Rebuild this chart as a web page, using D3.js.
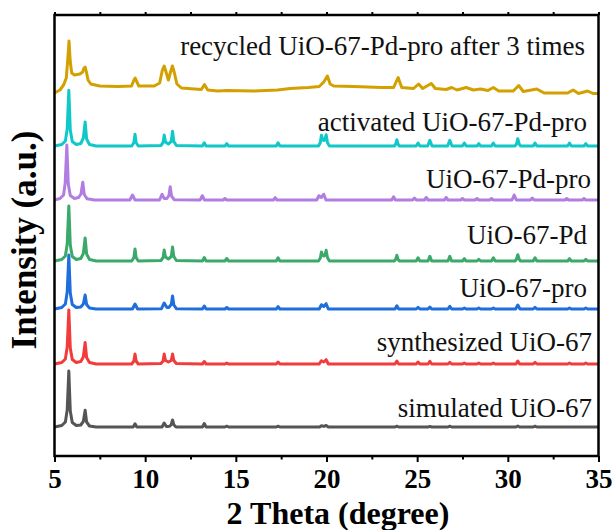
<!DOCTYPE html>
<html><head><meta charset="utf-8">
<script src="https://cdn.jsdelivr.net/npm/d3@7"></script>
<style>
html,body{margin:0;padding:0;background:#fff;}
svg{display:block;}
</style></head>
<body>
<svg id="chart" width="615" height="530"></svg>
<script>
// ---------------- DATA ----------------
const seriesNames = ["simulated UiO-67","synthesized UiO-67","UiO-67-pro","UiO-67-Pd","UiO-67-Pd-pro","activated UiO-67-Pd-pro","recycled UiO-67-Pd-pro after 3 times"];
// stacking offsets (a.u.) of each pattern
const seriesOffsets = [29, 92, 147, 195, 256, 310, 365];
const xTickValues = [5,10,15,20,25,30,35];
const xMinorTickValues = [7.5,12.5,17.5,22.5,27.5,32.5];

// [2theta, intensity]
const simulated = [[5,0],[5.4,1.5],[5.6,5],[5.7,17],[5.79,56],[5.87,16],[5.98,4.5],[6.2,1.5],[6.45,2],[6.59,5.5],[6.69,16.7],[6.77,5],[6.93,1],[7.3,0],
[9.34,0],[9.44,3.3],[9.54,0],
[10.93,0],[11.05,4],[11.17,0.5],[11.35,0.8],[11.44,2.5],[11.51,7],[11.58,2.2],[11.7,0],
[13.16,0],[13.26,3.5],[13.36,0],
[14.4,0],[14.5,0.8],[14.6,0],
[17.23,0],[17.33,0.8],[17.43,0],
[19.62,0],[19.72,1.2],[19.85,0.6],[19.98,1.5],[20.1,0],
[23.78,0],[23.88,0.8],[23.98,0],
[25.6,0],[25.7,0.6],[25.8,0],
[26.7,0],[26.8,0.8],[26.9,0],
[30.45,0],[30.55,1],[30.65,0],
[31.4,0],[31.5,0.8],[31.6,0],[35,0]];

const synthesized = [[5,0],[5.4,1.5],[5.6,5],[5.7,17],[5.79,54],[5.87,16],[5.98,4.5],[6.2,1.5],[6.45,2.5],[6.59,7],[6.69,21.5],[6.77,6.5],[6.93,1.5],[7.3,0],
[9.26,0],[9.38,3],[9.44,10],[9.5,3],[9.62,0],
[10.87,0.5],[10.99,3],[11.05,10],[11.12,3.5],[11.28,2],[11.44,3.5],[11.51,10],[11.58,3.5],[11.72,0.5],
[13.16,0],[13.26,2.5],[13.36,0],
[14.4,0],[14.5,1],[14.6,0],
[17.23,0],[17.33,2],[17.43,0],
[19.6,0],[19.72,3.3],[19.85,2],[19.98,4.3],[20.1,0],
[23.78,0],[23.88,3],[23.98,0],
[24.95,0],[25.05,2],[25.15,0],
[25.6,0],[25.7,2.7],[25.8,0],
[26.7,0],[26.8,1.7],[26.9,0],
[27.5,0],[27.6,1],[27.7,0],
[28.3,0],[28.4,1],[28.5,0],
[29.1,0],[29.2,1],[29.3,0],
[30.45,0],[30.55,3],[30.65,0],
[31.4,0],[31.5,1.7],[31.6,0],
[33.3,0],[33.4,1],[33.5,0],
[34.2,0],[34.3,1],[34.4,0],[35,0]];

const uioPro = [[5,0],[5.4,1.5],[5.6,5],[5.7,17],[5.79,54],[5.87,16],[5.98,4.5],[6.2,1.5],[6.45,2],[6.59,5],[6.69,14],[6.77,4.5],[6.93,1],[7.3,0],
[9.3,0],[9.44,5],[9.58,0],
[10.9,0.3],[11.05,6],[11.2,1.5],[11.3,1.5],[11.44,4.5],[11.51,13],[11.58,4],[11.72,0.3],
[13.16,0],[13.26,3],[13.36,0],
[14.4,0],[14.5,1.5],[14.6,0],
[17.23,0],[17.33,2.3],[17.43,0],
[19.6,0],[19.72,4.3],[19.85,2.5],[19.98,5.3],[20.1,0],
[23.78,0],[23.88,3.3],[23.98,0],
[24.95,0],[25.05,1.7],[25.15,0],
[25.6,0],[25.7,2],[25.8,0],
[26.7,0],[26.8,2.7],[26.9,0],
[27.5,0],[27.6,1],[27.7,0],
[28.3,0],[28.4,1],[28.5,0],
[29.1,0],[29.2,1],[29.3,0],
[30.43,0],[30.55,4],[30.67,0],
[31.4,0],[31.5,1.7],[31.6,0],
[33.3,0],[33.4,1],[33.5,0],
[34.2,0],[34.3,1],[34.4,0],[35,0]];

const uioPd = [[5,0],[5.4,1.5],[5.6,5],[5.7,17],[5.79,55],[5.87,16],[5.98,4.5],[6.2,1.5],[6.45,2.5],[6.59,7.5],[6.69,23],[6.77,7],[6.93,1.5],[7.3,0],
[9.26,0],[9.38,3.5],[9.44,12],[9.5,3.5],[9.62,0],
[10.87,0.5],[10.99,3.5],[11.05,11],[11.12,4],[11.28,2],[11.44,4.5],[11.51,14],[11.58,4.5],[11.72,0.5],
[13.16,0],[13.26,3.5],[13.36,0],
[14.4,0],[14.5,2.5],[14.6,0],
[17.23,0],[17.33,3.3],[17.43,0],
[19.56,0],[19.66,3],[19.72,9],[19.8,5.5],[19.85,5],[19.92,6],[19.98,10.7],[20.05,3.5],[20.16,0],
[23.74,0],[23.82,1.8],[23.88,5.7],[23.94,1.8],[24.02,0],
[24.95,0],[25.05,3.3],[25.15,0],
[25.6,0],[25.7,4.7],[25.8,0],
[26.7,0],[26.8,4.7],[26.9,0],
[27.5,0],[27.6,2.3],[27.7,0],
[28.3,0],[28.4,1.7],[28.5,0],
[29.1,0],[29.2,3.3],[29.3,0],
[30.4,0],[30.48,2],[30.55,6.3],[30.62,2],[30.7,0],
[31.4,0],[31.5,3.3],[31.6,0],
[33.3,0],[33.4,2.3],[33.5,0],
[34.2,0],[34.3,1.7],[34.4,0],[35,0]];

const uioPdPro = [[5,0],[5.3,1.5],[5.5,5],[5.59,17],[5.68,55],[5.76,16],[5.87,4.5],[6.1,1.5],[6.33,2.5],[6.46,6],[6.56,17.7],[6.64,5.5],[6.8,1.2],[7.2,0],
[9.16,0],[9.3,5],[9.44,0],
[10.79,0],[10.93,5.7],[11.05,1.5],[11.2,1.5],[11.31,4.5],[11.38,13.3],[11.45,4],[11.6,0.3],
[13.03,0],[13.15,4.3],[13.27,0],
[14.3,0],[14.4,1.5],[14.5,0],
[17.07,0],[17.17,2.3],[17.27,0],
[19.46,0],[19.58,4.3],[19.71,2.5],[19.85,5.7],[19.97,0],
[23.6,0],[23.7,3.3],[23.8,0],
[24.75,0],[24.85,2],[24.95,0],
[25.4,0],[25.5,2.5],[25.6,0],
[26.5,0],[26.6,2.5],[26.7,0],
[27.4,0],[27.5,1.5],[27.6,0],
[28.2,0],[28.3,1.5],[28.4,0],
[29.0,0],[29.1,1.5],[29.2,0],
[30.23,0],[30.35,5],[30.47,0],
[31.25,0],[31.35,2],[31.45,0],
[33.15,0],[33.25,1.5],[33.35,0],
[34.1,0],[34.2,1.5],[34.3,0],[35,0]];

const activated = [[5,0],[5.4,1.5],[5.6,5],[5.7,17],[5.79,55.7],[5.87,16],[5.98,4.5],[6.2,1.5],[6.45,2.5],[6.59,8],[6.69,24],[6.77,7],[6.93,1.5],[7.3,0],
[9.26,0],[9.38,3.5],[9.44,11.7],[9.5,3.5],[9.62,0],
[10.87,0.5],[10.99,3.5],[11.05,11],[11.12,4],[11.28,2],[11.44,4.5],[11.51,14.7],[11.58,4.5],[11.72,0.5],
[13.16,0],[13.26,3.3],[13.36,0],
[14.4,0],[14.5,2.3],[14.6,0],
[17.23,0],[17.33,3.3],[17.43,0],
[19.56,0],[19.66,3.5],[19.72,10.7],[19.8,6],[19.85,5.5],[19.92,6.5],[19.98,11.3],[20.05,3.5],[20.16,0],
[23.74,0],[23.82,2],[23.88,6.3],[23.94,2],[24.02,0],
[24.95,0],[25.05,3],[25.15,0],
[25.58,0],[25.7,5.7],[25.82,0],
[26.68,0],[26.8,5.7],[26.92,0],
[27.5,0],[27.6,3],[27.7,0],
[28.3,0],[28.4,2.3],[28.5,0],
[29.1,0],[29.2,3],[29.3,0],
[30.4,0],[30.48,2.2],[30.55,7.3],[30.62,2.2],[30.7,0],
[31.4,0],[31.5,3],[31.6,0],
[33.3,0],[33.4,3],[33.5,0],
[34.2,0],[34.3,2.3],[34.4,0],[35,0]];

const recycled = [[5,-2],[5.3,1],[5.5,6],[5.65,13],[5.73,31],[5.8,50],[5.87,29],[5.95,18],[6.1,16],[6.4,17],[6.55,19],[6.63,23],[6.69,24],[6.76,19],[6.85,11],[7.0,7],[7.5,5],[8.5,4.5],
[9.25,5],[9.38,11],[9.45,13],[9.52,10],[9.65,5],[10.5,5],[10.8,8],[10.95,21],[11.05,25],[11.15,19],[11.28,11],[11.4,19],[11.5,25],[11.6,19],[11.75,7],[12.0,3],
[13.1,1.5],[13.27,6.5],[13.45,1],[14.0,0],[14.5,0.5],[16,0],[17.3,1],[18,2.5],[19.0,3.5],[19.6,4.5],[19.85,9],[20.05,15],[20.2,7],[20.4,5],[21.5,4.5],
[23.0,3.5],[23.7,3.5],[23.95,13.5],[24.15,3.5],[24.8,2.5],[25.08,7],[25.3,2.5],[25.78,7.5],[26.0,2.5],[26.6,1.5],[26.9,3.5],[27.2,1],[27.7,3.5],[28.1,1],
[28.5,2],[28.9,0.5],[29.2,3.5],[29.5,0],[30.3,0],[30.6,5.5],[30.85,-0.5],[31.6,2],[32.0,-2],[33.3,-2],[33.6,1],[33.9,-2.5],[34.4,0],[34.7,-2.5],[35,-2.5]];

const seriesData = [simulated, synthesized, uioPro, uioPd, uioPdPro, activated, recycled];

// ---------------- STYLE / LAYOUT ----------------
const colors = ["#555555","#f23c3c","#1e6fdc","#3aa96a","#b27de0","#10c8c8","#d3a000"];
const labelLayout = [
  {right:592, baseline:417},
  {right:592, baseline:351},
  {right:587, baseline:297},
  {right:587, baseline:244},
  {right:591, baseline:188},
  {right:587, baseline:131},
  {right:585, baseline:55}
];
const m = {left:54.5, right:598.5, top:15, bottom:456};
const serif = "'Liberation Serif','Times New Roman',Times,serif";

const svg = d3.select("#chart");
const x = d3.scaleLinear().domain([5,35]).range([m.left, m.right]);
const y = d3.scaleLinear().domain([0, 441]).range([m.bottom, m.top]);

svg.append("defs").append("clipPath").attr("id","clip")
  .append("rect").attr("x",m.left).attr("y",m.top).attr("width",m.right-m.left).attr("height",m.bottom-m.top);

const line = d3.line().x(d=>x(d[0])).y(d=>y(d[1]));

const g = svg.append("g").attr("clip-path","url(#clip)");
seriesData.forEach((data,i)=>{
  const off = seriesOffsets[i];
  g.append("path")
    .datum(data.map(d=>[d[0], d[1]+off]))
    .attr("fill","none")
    .attr("stroke",colors[i])
    .attr("stroke-width",3)
    .attr("stroke-linejoin","round")
    .attr("stroke-linecap","round")
    .attr("d",line);
});

// labels
seriesNames.forEach((name,i)=>{
  svg.append("text")
    .attr("x",labelLayout[i].right).attr("y",labelLayout[i].baseline)
    .attr("text-anchor","end")
    .attr("font-family",serif).attr("font-size",27)
    .attr("fill","#111")
    .text(name);
});

// axes
const axB = svg.append("g").attr("transform",`translate(0,${m.bottom})`)
  .call(d3.axisBottom(x).tickValues(xTickValues).tickSize(6).tickPadding(7).tickFormat(d3.format("d")));
axB.select(".domain").remove();
axB.selectAll("line").attr("stroke","#000").attr("stroke-width",2);
axB.selectAll("text").attr("font-family",serif).attr("font-size",27).attr("font-weight","bold").attr("fill","#000");

const axBm = svg.append("g").attr("transform",`translate(0,${m.bottom})`)
  .call(d3.axisBottom(x).tickValues(xMinorTickValues).tickSize(3.5).tickFormat(""));
axBm.select(".domain").remove();
axBm.selectAll("line").attr("stroke","#000").attr("stroke-width",2);

const axT = svg.append("g").attr("transform",`translate(0,${m.top})`)
  .call(d3.axisTop(x).tickValues(xTickValues.concat(xMinorTickValues)).tickSize(3).tickFormat(""));
axT.select(".domain").remove();
axT.selectAll("line").attr("stroke","#000").attr("stroke-width",2);

// frame
svg.append("rect").attr("x",m.left).attr("y",m.top).attr("width",m.right-m.left).attr("height",m.bottom-m.top)
  .attr("fill","none").attr("stroke","#000").attr("stroke-width",2.5);

// titles
svg.append("text").attr("x",338).attr("y",523.5).attr("text-anchor","middle")
  .attr("font-family",serif).attr("font-size",32).attr("font-weight","bold").text("2 Theta (degree)");
svg.append("text").attr("transform","translate(36,240) rotate(-90)").attr("text-anchor","middle")
  .attr("font-family",serif).attr("font-size",35).attr("font-weight","bold").text("Intensity (a.u.)");
</script>
</body></html>
